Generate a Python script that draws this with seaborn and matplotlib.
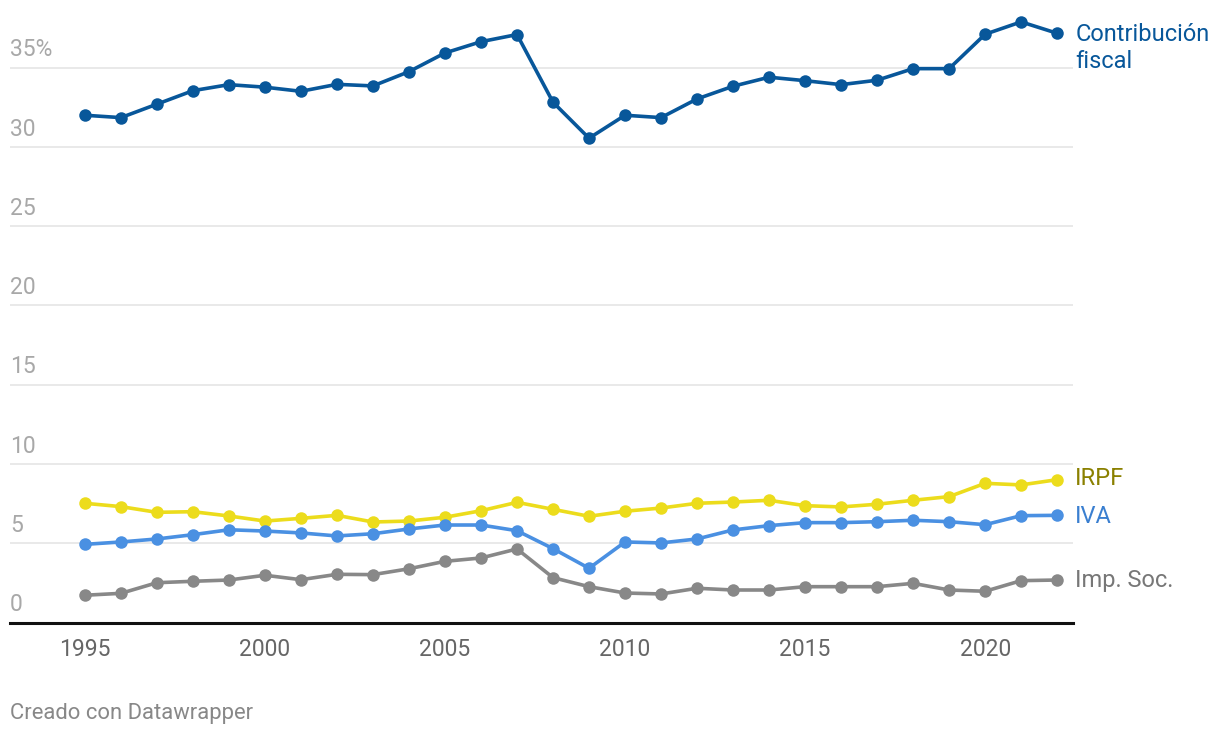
import matplotlib
matplotlib.use("Agg")
import matplotlib.pyplot as plt
import matplotlib.transforms as mtransforms
import seaborn as sns
import pandas as pd

years = list(range(1995, 2023))
contribucion = [32.0, 31.85, 32.7, 33.55, 33.93, 33.77, 33.51, 33.95, 33.85, 34.75,
                35.93, 36.64, 37.09, 32.82, 30.55, 32.0, 31.85, 33.03, 33.83, 34.4,
                34.18, 33.93, 34.21, 34.94, 34.94, 37.11, 37.89, 37.17]
irpf = [7.52, 7.31, 6.95, 6.99, 6.72, 6.40, 6.57, 6.76, 6.34, 6.40,
        6.64, 7.05, 7.58, 7.14, 6.70, 7.02, 7.22, 7.52, 7.60, 7.71,
        7.37, 7.29, 7.46, 7.71, 7.94, 8.78, 8.68, 9.01]
iva = [4.93, 5.08, 5.27, 5.54, 5.85, 5.77, 5.65, 5.46, 5.60, 5.90,
       6.15, 6.15, 5.79, 4.66, 3.42, 5.08, 5.02, 5.27, 5.84, 6.11,
       6.30, 6.30, 6.36, 6.45, 6.36, 6.17, 6.74, 6.76]
imp_soc = [1.72, 1.84, 2.51, 2.60, 2.68, 2.98, 2.70, 3.04, 3.02, 3.39,
           3.86, 4.07, 4.64, 2.83, 2.26, 1.86, 1.80, 2.16, 2.05, 2.05,
           2.26, 2.26, 2.26, 2.47, 2.05, 1.97, 2.64, 2.68]

series_names = ["Contribución fiscal", "IRPF", "IVA", "Imp. Soc."]
line_colors = ["#08579a", "#ecdc1c", "#4a90e2", "#888888"]
label_colors = ["#08579a", "#8a8000", "#3a7fd0", "#777777"]
label_texts = ["Contribución\nfiscal", "IRPF", "IVA", "Imp. Soc."]
y_ticks = [0, 5, 10, 15, 20, 25, 30, 35]
y_tick_labels = ["0", "5", "10", "15", "20", "25", "30", "35%"]
x_ticks = [1995, 2000, 2005, 2010, 2015, 2020]
footer = "Creado con Datawrapper"

values = [contribucion, irpf, iva, imp_soc]
df = pd.concat([pd.DataFrame({"year": years, "value": v, "serie": n})
                for n, v in zip(series_names, values)], ignore_index=True)

sns.set_theme(style="white")
plt.rcParams["font.family"] = ["Roboto", "DejaVu Sans"]

fig = plt.figure(figsize=(12.2, 7.38), dpi=100)
ax = fig.add_axes([10 / 1220, 1 - 622.5 / 738, 1063 / 1220, 622.5 / 738])

sns.lineplot(data=df, x="year", y="value", hue="serie", hue_order=series_names,
             palette=dict(zip(series_names, line_colors)), marker="o",
             markersize=9, markeredgewidth=0, linewidth=2.6, legend=False, ax=ax,
             zorder=3)

ax.set_xlim(1992.92, 2022.44)
ax.set_ylim(0, 39.27)

for t in y_ticks[1:]:
    ax.axhline(t, color="#e3e3e3", linewidth=1.1, zorder=1)

for sp in ["top", "right", "left"]:
    ax.spines[sp].set_visible(False)
ax.spines["bottom"].set_color("#111111")
ax.spines["bottom"].set_linewidth(2.2)
ax.spines["bottom"].set_zorder(4)

ax.set_yticks([])
ax.set_xticks(x_ticks)
ax.set_xticklabels([str(x) for x in x_ticks], fontsize=16.5, color="#666666")
ax.tick_params(axis="x", length=0, pad=11)
ax.set_xlabel("")
ax.set_ylabel("")

trans = mtransforms.blended_transform_factory(ax.transAxes, ax.transData)
for t, lab in zip(y_ticks, y_tick_labels):
    ax.text(0.0, t + 0.4, lab, transform=trans, ha="left", va="bottom",
            fontsize=16.5, color="#a8a8a8")

label_y = [contribucion[-1], irpf[-1], iva[-1], imp_soc[-1]]
label_offsets = [-0.92, 0.1, -0.05, 0.0]
for txt, yv, off, c in zip(label_texts, label_y, label_offsets, label_colors):
    ax.text(2022.5, yv + off, txt, ha="left", va="center", fontsize=17,
            color=c, linespacing=1.2, clip_on=False)

fig.text(10 / 1220, 1 - 714 / 738, footer, ha="left", va="center",
         fontsize=15.8, color="#888888")

fig.savefig("out.png", dpi=100)
